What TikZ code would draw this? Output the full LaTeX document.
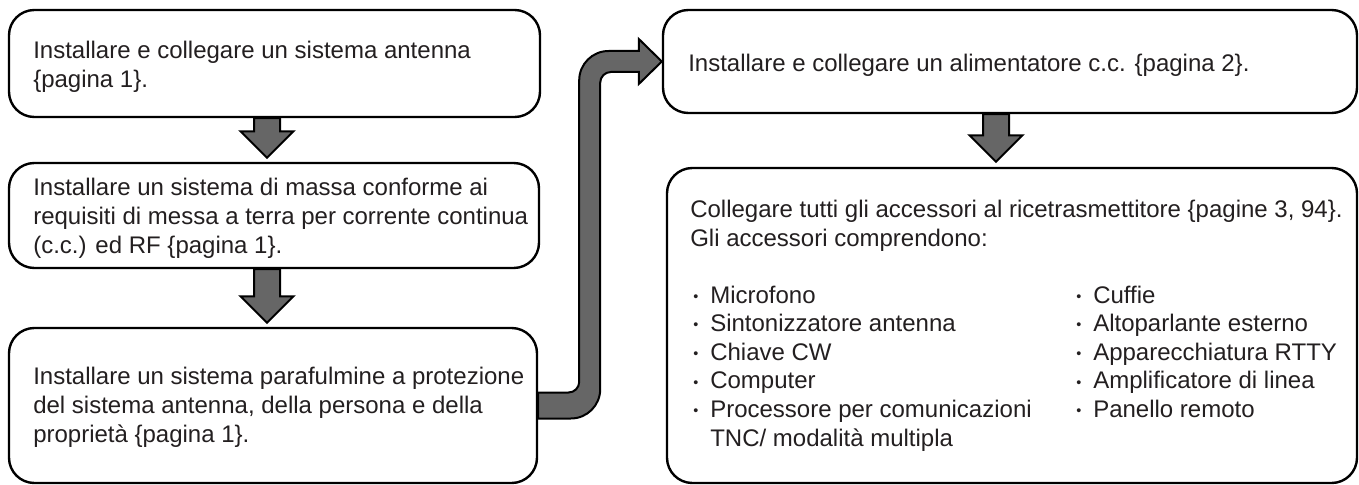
\documentclass[tikz,border=0pt]{standalone}
\usepackage{fontspec}
\usepackage{graphicx}
\setmainfont{Liberation Sans}
\usetikzlibrary{calc}
\definecolor{inkc}{RGB}{35,31,32}
\definecolor{arrowgray}{RGB}{102,102,102}
\newcommand\bul{\raisebox{0.08em}{\scalebox{0.6}{\textbullet}}}
\newcommand\itm[1]{\makebox[12.75pt][l]{\bul}#1}
\newcommand\itrow[2]{\hspace*{2.25pt}\makebox[287.25pt][l]{\itm{#1}}\itm{#2}}
\newcommand\blockarr[2]{%
  \draw[arrowshape] let \p1=#1, \p2=#2 in
    (\x1-9.75pt,\y1) -- (\x1+9.75pt,\y1) -- (\x1+9.75pt,\y2+19.875pt)
    -- (\x1+19.875pt,\y2+19.875pt) -- (\x1,\y2) -- (\x1-19.875pt,\y2+19.875pt)
    -- (\x1-9.75pt,\y2+19.875pt) -- cycle;}
\tikzset{
  box/.style={draw=black, line width=1.8pt, rounded corners=19pt, fill=white, inner sep=0pt},
  label/.style={font=\fontsize{18pt}{21.4pt}\selectfont, text=inkc, align=left, inner sep=0pt, anchor=base west},
  arrowshape/.style={draw=black, line width=1.5pt, fill=arrowgray, line join=miter}
}
\begin{document}
\begin{tikzpicture}[x=0.75pt, y=-0.75pt]
\useasboundingbox (0,0) rectangle (1359,485);
% boxes
\node[box, minimum width=398.25pt, minimum height=80.25pt] (b1) at (274.5,63.5) {};
\node[box, minimum width=397.5pt, minimum height=78.75pt] (b2) at (274,215.5) {};
\node[box, minimum width=396pt, minimum height=116.25pt] (b3) at (273,405.5) {};
\node[box, minimum width=520.5pt, minimum height=77.25pt] (b4) at (1010,61.5) {};
\node[box, minimum width=517.5pt, minimum height=236.25pt] (b5) at (1012,325.5) {};
% texts (anchor: baseline of last line)
\node[label] (t1) at (33,87.5) {Installare e collegare un sistema antenna\\ \{pagina 1\}.};
\node[label] (t2) at (33,253) {Installare un sistema di massa conforme ai\\ requisiti di messa a terra per corrente continua\\ (c.c.) ed RF \{pagina 1\}.};
\node[label] (t3) at (33,442) {Installare un sistema parafulmine a protezione\\ del sistema antenna, della persona e della\\ propriet\`a \{pagina 1\}.};
\node[label] (t4) at (688,72) {Installare e collegare un alimentatore c.c. \{pagina 2\}.};
\node[label] (t5) at (690,446) {Collegare tutti gli accessori al ricetrasmettitore \{pagine 3, 94\}.\\
Gli accessori comprendono:\\
\mbox{}\\
\itrow{Microfono}{Cuffie}\\
\itrow{Sintonizzatore antenna}{Altoparlante esterno}\\
\itrow{Chiave CW}{Apparecchiatura RTTY}\\
\itrow{Computer}{Amplificatore di linea}\\
\itrow{Processore per comunicazioni}{Panello remoto}\\
\hspace*{15pt}TNC/ modalit\`a multipla};
% block arrows
\blockarr{($(b1.south)+(-7.5,0)$)}{($(b2.north)+(-7.5,-4)$)}
\blockarr{($(b2.south)+(-7,0)$)}{($(b3.north)+(-6,-4)$)}
\blockarr{($(b4.south)+(-14,0)$)}{($(b5.north)+(-16,-5)$)}
% curved arrow
\draw[arrowshape] let \p1=(b3.east), \p2=(b4.west) in
  (\x1,\y1-9.75pt) -- (\x1+24.5pt,\y1-9.75pt)
  arc[start angle=-90, end angle=0, radius=22pt]
  -- (\x1+46.5pt,\y2-15.875pt)
  arc[start angle=180, end angle=90, radius=8pt]
  -- (\x2-17.25pt,\y2-7.875pt) -- (\x2-17.25pt,\y2-16.875pt) -- (\x2,\y2)
  -- (\x2-17.25pt,\y2+16.875pt) -- (\x2-17.25pt,\y2+7.875pt)
  -- (\x1+52.75pt,\y2+7.875pt)
  arc[start angle=90, end angle=180, radius=22pt]
  -- (\x1+30.75pt,\y1+17.75pt)
  arc[start angle=0, end angle=-90, radius=8pt]
  -- (\x1,\y1+9.75pt) -- cycle;
\end{tikzpicture}
\end{document}
